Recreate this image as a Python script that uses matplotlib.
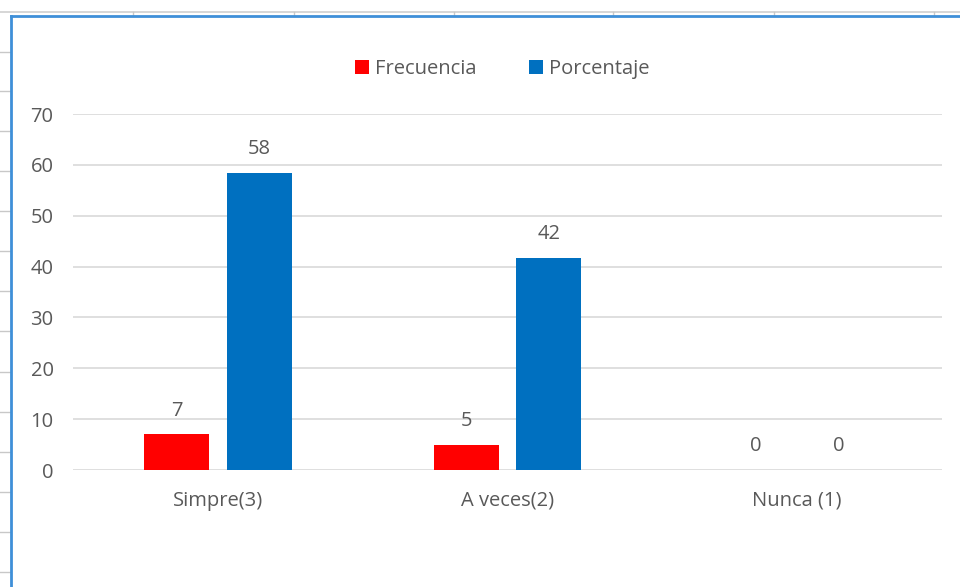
import numpy as np
import matplotlib
matplotlib.use('Agg')
import matplotlib.pyplot as plt
from matplotlib.lines import Line2D

plt.rcParams['font.family'] = ['Open Sans', 'DejaVu Sans']

categorias = ['Simpre(3)', 'A veces(2)', 'Nunca (1)']
frecuencia = [7, 5, 0]
porcentaje = [58.33, 41.67, 0]
series = ['Frecuencia', 'Porcentaje']
colores = ['#FF0000', '#0070C0']
gris = '#595959'

W, H = 960, 587
fig = plt.figure(figsize=[W / 100, H / 100], dpi=100)

def fy(y):
    return 1 - y / H

# spreadsheet grid behind the chart
fig.add_artist(Line2D([0, 1], [fy(12)] * 2, color='#d0d0d0', lw=1.2))
for cx in [133, 294, 454, 613, 774, 934]:
    fig.add_artist(Line2D([cx / W] * 2, [fy(12), fy(16)], color='#c8c8c8', lw=1))
for ry in [52, 91, 131, 171, 211, 251, 291, 331, 372, 412, 452, 492, 532, 572]:
    fig.add_artist(Line2D([0, 10 / W], [fy(ry)] * 2, color='#c8c8c8', lw=1))

# chart frame
fig.add_artist(Line2D([11 / W, 11 / W], [0, fy(16)], color='#3F8FD8', lw=2))
fig.add_artist(Line2D([11 / W, 1], [fy(16)] * 2, color='#3F8FD8', lw=2))

left, right = 73 / W, 942 / W
bottom, top = fy(470), fy(114)
ax = fig.add_axes([left, bottom, right - left, top - bottom])

x = np.arange(len(categorias))
w = 0.224
off = 0.143
b1 = ax.bar(x - off, frecuencia, w, color=colores[0], label=series[0])
b2 = ax.bar(x + off, porcentaje, w, color=colores[1], label=series[1])
for bars in [b1, b2]:
    ax.bar_label(bars, labels=['%.0f' % b.get_height() for b in bars],
                 padding=10, fontsize=14.5, color=gris)

ax.set_xlim(-0.5, 2.5)
ax.set_ylim(0, 70)
ax.set_yticks(range(0, 71, 10))
ax.set_xticks(x)
ax.set_xticklabels(categorias)
ax.tick_params(axis='both', length=0, labelsize=14.5, labelcolor=gris)
ax.tick_params(axis='y', pad=14)
ax.tick_params(axis='x', pad=15)
ax.grid(axis='y', color='#d9d9d9', lw=1.2)
ax.set_axisbelow(True)
for s in ax.spines.values():
    s.set_visible(False)

cx = (502 / W - left) / (right - left)
cy = 1 + (114 - 69) / (470 - 114)
ax.legend(loc='center', bbox_to_anchor=(cx, cy),
          ncol=2, frameon=False, fontsize=14.5, handlelength=0.7, handleheight=0.7,
          columnspacing=2.6, handletextpad=0.3, labelcolor=gris)

fig.savefig('out.png', dpi=100)
